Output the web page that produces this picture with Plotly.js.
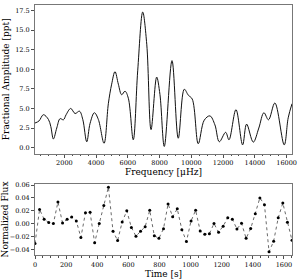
<!DOCTYPE html>
<html>
<head>
<meta charset="utf-8">
<script src="https://cdn.plot.ly/plotly-3.0.1.min.js"></script>
<style>html,body{margin:0;padding:0;background:#fff;}#plot{width:298px;height:279px;}</style>
</head>
<body>
<div id="plot"></div>
<script>
// Top panel: amplitude spectrum
const freq = [150, 400, 680, 995, 1145, 1310, 1520, 1730, 1940, 2110, 2400, 2675, 2950, 3160, 3410, 3620, 3890, 4140, 4500, 4770, 4980, 5190, 5400, 5610, 5820, 6030, 6340, 6620, 6935, 7190, 7460, 7815, 8020, 8295, 8780, 9175, 9555, 9805, 10055, 10435, 10810, 11170, 11485, 11760, 12160, 12370, 12810, 13230, 13480, 13900, 14250, 14570, 14860, 15260, 15850, 16100, 16340];
const amp = [3.14, 3.4, 4.2, 3.6, 2.7, 1.1, 2.5, 3.7, 3.55, 4.2, 5.0, 4.35, 4.65, 3.6, 0.75, 3.1, 4.45, 3.6, 0.55, 5.6, 8.1, 9.7, 8.1, 6.75, 7.2, 6.3, 1.0, 9.8, 17.3, 13.2, 2.3, 9.0, 6.8, 0.15, 11.1, 1.2, 7.45, 6.7, 6.2, 0.5, 3.5, 4.05, 2.9, 0.75, 1.95, 1.0, 4.85, 0.35, 3.0, 0.7, 2.5, 4.45, 3.55, 5.7, 0.35, 3.8, 5.6];

// Bottom panel: light curve
const time = [0, 29.5, 59, 88.5, 118, 147.5, 177, 206.5, 236, 265.5, 295, 324.5, 354, 383.5, 413, 442.5, 472, 501.5, 531, 560.5, 590, 619.5, 649, 678.5, 708, 737.5, 767, 796.5, 826, 855.5, 885, 914.5, 944, 973.5, 1003, 1032.5, 1062, 1091.5, 1121, 1150.5, 1180, 1209.5, 1239, 1268.5, 1298, 1327.5, 1357, 1386.5, 1416, 1445.5, 1475, 1504.5, 1534, 1563.5, 1593, 1622.5, 1652];
const flux = [-0.031, 0.022, 0.0067, 0.0015, 0.000, 0.0335, 0.001, 0.0067, 0.0103, 0.004, -0.0216, 0.017, 0.0175, -0.030, 0.000, 0.028, 0.0567, -0.012, -0.0265, 0.0026, 0.0198, -0.006, -0.0197, -0.012, -0.005, 0.0206, -0.019, -0.023, -0.008, 0.0305, 0.0105, 0.023, -0.0095, -0.028, 0.004, 0.0206, -0.0115, -0.0165, -0.0158, 0.000, -0.0135, -0.004, 0.0089, 0.0068, -0.0084, 0.0005, -0.023, -0.0078, 0.0153, 0.040, 0.0295, -0.044, -0.0275, 0.0089, 0.032, 0.002, -0.026];

const FONT = 'DejaVu Serif, serif';
const axisCommon = {
  showline: true, mirror: true, linecolor: '#777', linewidth: 1,
  showgrid: false, zeroline: false,
  ticks: 'outside', ticklen: 3, tickwidth: 0.8, tickcolor: '#222',
  tickfont: {family: FONT, size: 6.5, color: '#000'}
};

const traces = [
  {x: freq, y: amp, type: 'scatter', mode: 'lines', xaxis: 'x', yaxis: 'y',
   line: {color: '#111', width: 1, shape: 'spline', smoothing: 1}},
  {x: time, y: flux, type: 'scatter', mode: 'lines+markers', xaxis: 'x2', yaxis: 'y2',
   line: {color: '#444', width: 0.8, dash: 'dot'},
   marker: {color: '#000', size: 3}}
];

const layout = {
  width: 298, height: 279,
  margin: {l: 35, r: 6, t: 5, b: 24},
  paper_bgcolor: '#fff', plot_bgcolor: '#fff',
  showlegend: false,
  xaxis: Object.assign({}, axisCommon, {
    domain: [0, 1], anchor: 'y', range: [150, 16340],
    tick0: 0, dtick: 2000, tickformat: 'd',
    minor: {ticks: 'outside', ticklen: 1.5, dtick: 500, tickcolor: '#222'},
    title: {text: 'Frequency [μHz]', font: {family: FONT, size: 9, color: '#000'}, standoff: 0}
  }),
  yaxis: Object.assign({}, axisCommon, {
    domain: [0.406, 1], anchor: 'x', range: [-0.75, 18.2],
    tick0: 0, dtick: 2.5, tickformat: '.1f',
    title: {text: 'Fractional Amplitude [ppt]', font: {family: FONT, size: 9, color: '#000'}, standoff: 4}
  }),
  xaxis2: Object.assign({}, axisCommon, {
    domain: [0, 1], anchor: 'y2', range: [0, 1652],
    tick0: 0, dtick: 200, tickformat: 'd',
    minor: {ticks: 'outside', ticklen: 1.5, dtick: 50, tickcolor: '#222'},
    title: {text: 'Time [s]', font: {family: FONT, size: 9, color: '#000'}, standoff: 0}
  }),
  yaxis2: Object.assign({}, axisCommon, {
    domain: [0, 0.284], anchor: 'x2', range: [-0.049, 0.0617],
    tick0: 0, dtick: 0.02, tickformat: '.2f',
    title: {text: 'Normalized Flux', font: {family: FONT, size: 9, color: '#000'}, standoff: 4}
  })
};

Plotly.newPlot('plot', traces, layout, {staticPlot: true, displayModeBar: false});
</script>
</body>
</html>
